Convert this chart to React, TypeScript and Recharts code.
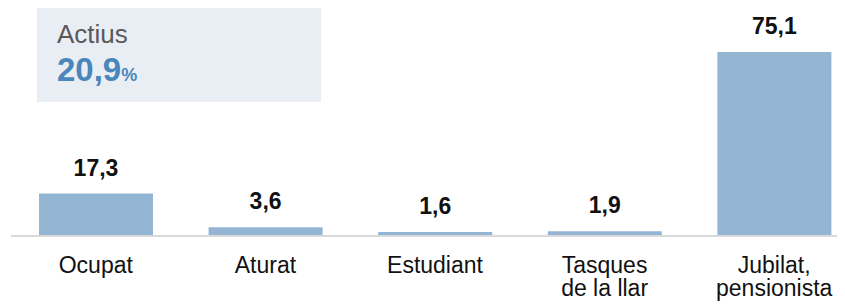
import React from "react";
import { BarChart, Bar, XAxis, YAxis, LabelList } from "recharts";

const categories = ["Ocupat", "Aturat", "Estudiant", "Tasques\nde la llar", "Jubilat,\npensionista"];
const values = [17.3, 3.6, 1.6, 1.9, 75.1];
const boxLabel = "Actius";
const boxValue = "20,9";
const boxUnit = "%";

const data = categories.map((c, i) => ({ name: c, value: values[i] }));

const FONT = "'Liberation Sans', Arial, Helvetica, sans-serif";

const fmt = (v: number) => v.toFixed(1).replace(".", ",");

const Tick = (props: any) => {
  const { x, y, payload } = props;
  const lines = String(payload.value).split("\n");
  return (
    <text
      x={x}
      y={y + 36.5}
      textAnchor="middle"
      fontFamily={FONT}
      fontSize={23}
      fill="#111"
    >
      {lines.map((l, i) => (
        <tspan key={i} x={x} dy={i === 0 ? 0 : 23}>
          {l}
        </tspan>
      ))}
    </text>
  );
};

export default function App() {
  return (
    <div style={{ position: "relative", width: 837, height: 296, overflow: "hidden" }}>
      <svg
        width={837}
        height={296}
        style={{ position: "absolute", left: 0, top: 0 }}
      >
        <rect x={29} y={0} width={284} height={94} fill="#e9eef5" />
        <text x={49} y={34.7} fontFamily={FONT} fontSize={26} fill="#595959">
          {boxLabel}
        </text>
        <text x={49} y={73} fontFamily={FONT} fontWeight="bold" fill="#4a86bb">
          <tspan fontSize={33}>{boxValue}</tspan>
          <tspan fontSize={18}>{boxUnit}</tspan>
        </text>
      </svg>
      <div style={{ position: "absolute", left: 0, top: 0 }}>
        <BarChart
          width={860}
          height={296}
          data={data}
          margin={{ top: 32, right: 9, bottom: 38, left: 3 }}
          barSize={114}
        >
          <XAxis
            dataKey="name"
            tick={<Tick />}
            tickLine={false}
            tickSize={0}
            tickMargin={0}
            axisLine={{ stroke: "#d9d9d9", strokeWidth: 2 }}
            height={30}
            interval={0}
          />
          <YAxis hide domain={[0, 80]} />
          <Bar dataKey="value" fill="#93b5d3" isAnimationActive={false}>
            <LabelList
              dataKey="value"
              position="top"
              offset={18}
              formatter={(v: any) => fmt(Number(v))}
              style={{ fontFamily: FONT, fontSize: 23, fontWeight: "bold", fill: "#111" }}
            />
          </Bar>
        </BarChart>
      </div>
    </div>
  );
}
